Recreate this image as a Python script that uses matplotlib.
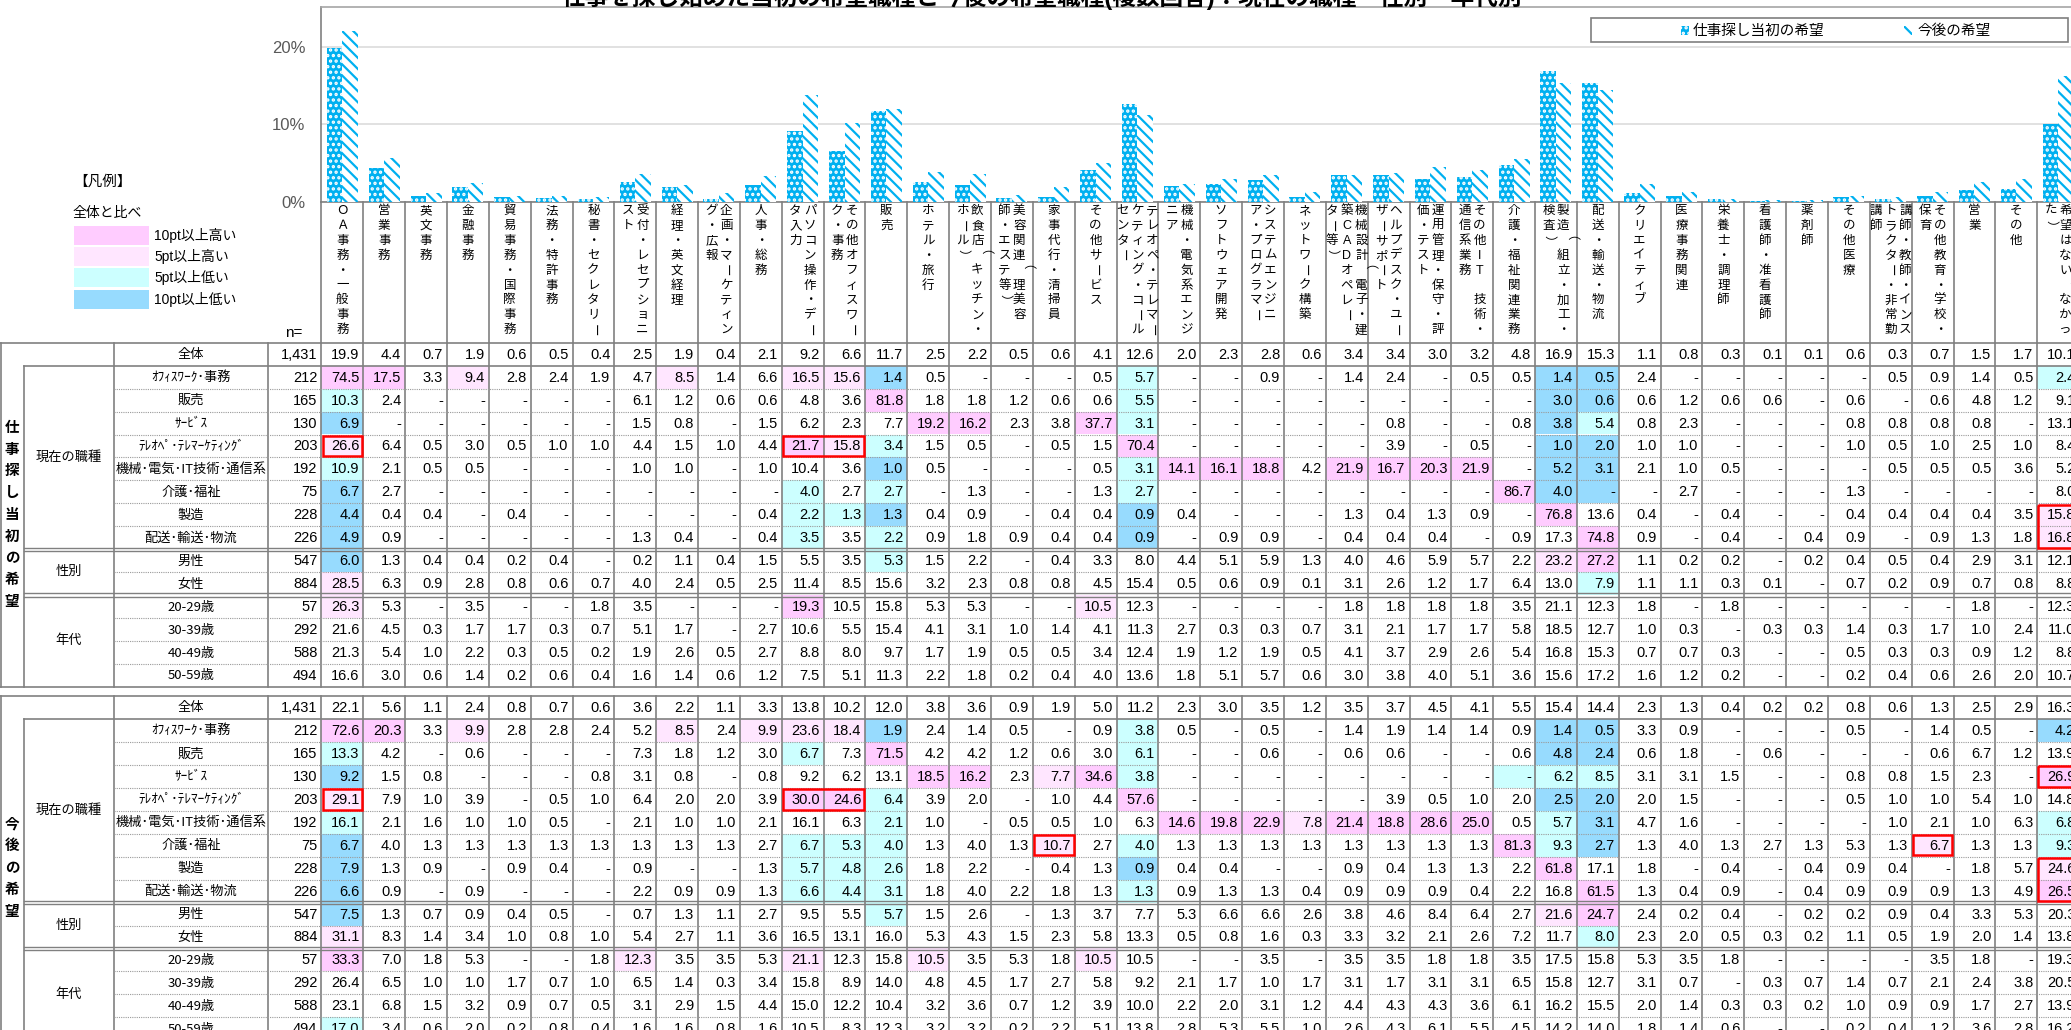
import matplotlib
matplotlib.use("Agg")
import matplotlib.pyplot as plt
from matplotlib.patches import Rectangle

plt.rcParams['font.family'] = ['Liberation Sans', 'Noto Sans CJK JP']
plt.rcParams['hatch.linewidth'] = 1.6

# ---- data -------------------------------------------------------------
job_labels = [
    "ＯＡ事務・一般事務", "営業事務", "英文事務", "金融事務", "貿易事務・国際事務", "法務・特許事務",
    "秘書・セクレタリー", "受付・レセプショニ|スト", "経理・英文経理", "企画・マーケティン|グ・広報",
    "人事・総務", "パソコン操作・デー|タ入力", "その他オフィスワー|ク・事務", "販売", "ホテル・旅行",
    "飲食店（キッチン・|ホール）", "美容関連（理美容|師・エステ等）", "家事代行・清掃員", "その他サービス",
    "テレオペ・テレマー|ケティング・コール|センター", "機械・電気系エンジ|ニア", "ソフトウェア開発",
    "システムエンジニ|ア・プログラマー", "ネットワーク構築", "機械設計（電子・建|築CADオペレー|ター等）",
    "ヘルプデスク・ユー|ザーサポート", "運用管理・保守・評|価・テスト", "その他IT　技術・|通信系業務",
    "介護・福祉関連業務", "製造（組立・加工・|検査）", "配送・輸送・物流", "クリエイティブ", "医療事務関連",
    "栄養士・調理師", "看護師・准看護師", "薬剤師", "その他医療", "講師・教師・インス|トラクター・非常勤|講師",
    "その他教育・学校・|保育", "営業", "その他", "希望はない（なかっ|た）",
]

block_titles = ["仕事探し当初の希望", "今後の希望"]
row_labels = ["全体", "ｵﾌｨｽﾜｰｸ･事務", "販売", "ｻｰﾋﾞｽ", "ﾃﾚｵﾍﾟ･ﾃﾚﾏｰｹﾃｨﾝｸﾞ", "機械･電気･IT技術･通信系",
              "介護･福祉", "製造", "配送･輸送･物流", "男性", "女性", "20-29歳", "30-39歳", "40-49歳", "50-59歳"]
groups = [("現在の職種", 1, 8), ("性別", 9, 10), ("年代", 11, 14)]
n_counts = [1431, 212, 165, 130, 203, 192, 75, 228, 226, 547, 884, 57, 292, 588, 494]

# 0 = "-"
first_wish = [
    [19.9, 4.4, 0.7, 1.9, 0.6, 0.5, 0.4, 2.5, 1.9, 0.4, 2.1, 9.2, 6.6, 11.7, 2.5, 2.2, 0.5, 0.6, 4.1, 12.6, 2.0, 2.3, 2.8, 0.6, 3.4, 3.4, 3.0, 3.2, 4.8, 16.9, 15.3, 1.1, 0.8, 0.3, 0.1, 0.1, 0.6, 0.3, 0.7, 1.5, 1.7, 10.1],
    [74.5, 17.5, 3.3, 9.4, 2.8, 2.4, 1.9, 4.7, 8.5, 1.4, 6.6, 16.5, 15.6, 1.4, 0.5, 0, 0, 0, 0.5, 5.7, 0, 0, 0.9, 0, 1.4, 2.4, 0, 0.5, 0.5, 1.4, 0.5, 2.4, 0, 0, 0, 0, 0, 0.5, 0.9, 1.4, 0.5, 2.4],
    [10.3, 2.4, 0, 0, 0, 0, 0, 6.1, 1.2, 0.6, 0.6, 4.8, 3.6, 81.8, 1.8, 1.8, 1.2, 0.6, 0.6, 5.5, 0, 0, 0, 0, 0, 0, 0, 0, 0, 3.0, 0.6, 0.6, 1.2, 0.6, 0.6, 0, 0.6, 0, 0.6, 4.8, 1.2, 9.1],
    [6.9, 0, 0, 0, 0, 0, 0, 1.5, 0.8, 0, 1.5, 6.2, 2.3, 7.7, 19.2, 16.2, 2.3, 3.8, 37.7, 3.1, 0, 0, 0, 0, 0, 0.8, 0, 0, 0.8, 3.8, 5.4, 0.8, 2.3, 0, 0, 0, 0.8, 0.8, 0.8, 0.8, 0, 13.1],
    [26.6, 6.4, 0.5, 3.0, 0.5, 1.0, 1.0, 4.4, 1.5, 1.0, 4.4, 21.7, 15.8, 3.4, 1.5, 0.5, 0, 0.5, 1.5, 70.4, 0, 0, 0, 0, 0, 3.9, 0, 0.5, 0, 1.0, 2.0, 1.0, 1.0, 0, 0, 0, 1.0, 0.5, 1.0, 2.5, 1.0, 8.4],
    [10.9, 2.1, 0.5, 0.5, 0, 0, 0, 1.0, 1.0, 0, 1.0, 10.4, 3.6, 1.0, 0.5, 0, 0, 0, 0.5, 3.1, 14.1, 16.1, 18.8, 4.2, 21.9, 16.7, 20.3, 21.9, 0, 5.2, 3.1, 2.1, 1.0, 0.5, 0, 0, 0, 0.5, 0.5, 0.5, 3.6, 5.2],
    [6.7, 2.7, 0, 0, 0, 0, 0, 0, 0, 0, 0, 4.0, 2.7, 2.7, 0, 1.3, 0, 0, 1.3, 2.7, 0, 0, 0, 0, 0, 0, 0, 0, 86.7, 4.0, 0, 0, 2.7, 0, 0, 0, 1.3, 0, 0, 0, 0, 8.0],
    [4.4, 0.4, 0.4, 0, 0.4, 0, 0, 0, 0, 0, 0.4, 2.2, 1.3, 1.3, 0.4, 0.9, 0, 0.4, 0.4, 0.9, 0.4, 0, 0, 0, 1.3, 0.4, 1.3, 0.9, 0, 76.8, 13.6, 0.4, 0, 0.4, 0, 0, 0.4, 0.4, 0.4, 0.4, 3.5, 15.8],
    [4.9, 0.9, 0, 0, 0, 0, 0, 1.3, 0.4, 0, 0.4, 3.5, 3.5, 2.2, 0.9, 1.8, 0.9, 0.4, 0.4, 0.9, 0, 0.9, 0.9, 0, 0.4, 0.4, 0.4, 0, 0.9, 17.3, 74.8, 0.9, 0, 0.4, 0, 0.4, 0.9, 0, 0.9, 1.3, 1.8, 16.8],
    [6.0, 1.3, 0.4, 0.4, 0.2, 0.4, 0, 0.2, 1.1, 0.4, 1.5, 5.5, 3.5, 5.3, 1.5, 2.2, 0, 0.4, 3.3, 8.0, 4.4, 5.1, 5.9, 1.3, 4.0, 4.6, 5.9, 5.7, 2.2, 23.2, 27.2, 1.1, 0.2, 0.2, 0, 0.2, 0.4, 0.5, 0.4, 2.9, 3.1, 12.1],
    [28.5, 6.3, 0.9, 2.8, 0.8, 0.6, 0.7, 4.0, 2.4, 0.5, 2.5, 11.4, 8.5, 15.6, 3.2, 2.3, 0.8, 0.8, 4.5, 15.4, 0.5, 0.6, 0.9, 0.1, 3.1, 2.6, 1.2, 1.7, 6.4, 13.0, 7.9, 1.1, 1.1, 0.3, 0.1, 0, 0.7, 0.2, 0.9, 0.7, 0.8, 8.8],
    [26.3, 5.3, 0, 3.5, 0, 0, 1.8, 3.5, 0, 0, 0, 19.3, 10.5, 15.8, 5.3, 5.3, 0, 0, 10.5, 12.3, 0, 0, 0, 0, 1.8, 1.8, 1.8, 1.8, 3.5, 21.1, 12.3, 1.8, 0, 1.8, 0, 0, 0, 0, 0, 1.8, 0, 12.3],
    [21.6, 4.5, 0.3, 1.7, 1.7, 0.3, 0.7, 5.1, 1.7, 0, 2.7, 10.6, 5.5, 15.4, 4.1, 3.1, 1.0, 1.4, 4.1, 11.3, 2.7, 0.3, 0.3, 0.7, 3.1, 2.1, 1.7, 1.7, 5.8, 18.5, 12.7, 1.0, 0.3, 0, 0.3, 0.3, 1.4, 0.3, 1.7, 1.0, 2.4, 11.0],
    [21.3, 5.4, 1.0, 2.2, 0.3, 0.5, 0.2, 1.9, 2.6, 0.5, 2.7, 8.8, 8.0, 9.7, 1.7, 1.9, 0.5, 0.5, 3.4, 12.4, 1.9, 1.2, 1.9, 0.5, 4.1, 3.7, 2.9, 2.6, 5.4, 16.8, 15.3, 0.7, 0.7, 0.3, 0, 0, 0.5, 0.3, 0.3, 0.9, 1.2, 8.8],
    [16.6, 3.0, 0.6, 1.4, 0.2, 0.6, 0.4, 1.6, 1.4, 0.6, 1.2, 7.5, 5.1, 11.3, 2.2, 1.8, 0.2, 0.4, 4.0, 13.6, 1.8, 5.1, 5.7, 0.6, 3.0, 3.8, 4.0, 5.1, 3.6, 15.6, 17.2, 1.6, 1.2, 0.2, 0, 0, 0.2, 0.4, 0.6, 2.6, 2.0, 10.7],
]

future_wish = [
    [22.1, 5.6, 1.1, 2.4, 0.8, 0.7, 0.6, 3.6, 2.2, 1.1, 3.3, 13.8, 10.2, 12.0, 3.8, 3.6, 0.9, 1.9, 5.0, 11.2, 2.3, 3.0, 3.5, 1.2, 3.5, 3.7, 4.5, 4.1, 5.5, 15.4, 14.4, 2.3, 1.3, 0.4, 0.2, 0.2, 0.8, 0.6, 1.3, 2.5, 2.9, 16.3],
    [72.6, 20.3, 3.3, 9.9, 2.8, 2.8, 2.4, 5.2, 8.5, 2.4, 9.9, 23.6, 18.4, 1.9, 2.4, 1.4, 0.5, 0, 0.9, 3.8, 0.5, 0, 0.5, 0, 1.4, 1.9, 1.4, 1.4, 0.9, 1.4, 0.5, 3.3, 0.9, 0, 0, 0, 0.5, 0, 1.4, 0.5, 0, 4.2],
    [13.3, 4.2, 0, 0.6, 0, 0, 0, 7.3, 1.8, 1.2, 3.0, 6.7, 7.3, 71.5, 4.2, 4.2, 1.2, 0.6, 3.0, 6.1, 0, 0, 0.6, 0, 0.6, 0.6, 0, 0, 0.6, 4.8, 2.4, 0.6, 1.8, 0, 0.6, 0, 0, 0, 0.6, 6.7, 1.2, 13.9],
    [9.2, 1.5, 0.8, 0, 0, 0, 0.8, 3.1, 0.8, 0, 0.8, 9.2, 6.2, 13.1, 18.5, 16.2, 2.3, 7.7, 34.6, 3.8, 0, 0, 0, 0, 0, 0, 0, 0, 0, 6.2, 8.5, 3.1, 3.1, 1.5, 0, 0, 0.8, 0.8, 1.5, 2.3, 0, 26.9],
    [29.1, 7.9, 1.0, 3.9, 0, 0.5, 1.0, 6.4, 2.0, 2.0, 3.9, 30.0, 24.6, 6.4, 3.9, 2.0, 0, 1.0, 4.4, 57.6, 0, 0, 0, 0, 0, 3.9, 0.5, 1.0, 2.0, 2.5, 2.0, 2.0, 1.5, 0, 0, 0, 0.5, 1.0, 1.0, 5.4, 1.0, 14.8],
    [16.1, 2.1, 1.6, 1.0, 1.0, 0.5, 0, 2.1, 1.0, 1.0, 2.1, 16.1, 6.3, 2.1, 1.0, 0, 0.5, 0.5, 1.0, 6.3, 14.6, 19.8, 22.9, 7.8, 21.4, 18.8, 28.6, 25.0, 0.5, 5.7, 3.1, 4.7, 1.6, 0, 0, 0, 0, 1.0, 2.1, 1.0, 6.3, 6.8],
    [6.7, 4.0, 1.3, 1.3, 1.3, 1.3, 1.3, 1.3, 1.3, 1.3, 2.7, 6.7, 5.3, 4.0, 1.3, 4.0, 1.3, 10.7, 2.7, 4.0, 1.3, 1.3, 1.3, 1.3, 1.3, 1.3, 1.3, 1.3, 81.3, 9.3, 2.7, 1.3, 4.0, 1.3, 2.7, 1.3, 5.3, 1.3, 6.7, 1.3, 1.3, 9.3],
    [7.9, 1.3, 0.9, 0, 0.9, 0.4, 0, 0.9, 0, 0, 1.3, 5.7, 4.8, 2.6, 1.8, 2.2, 0, 0.4, 1.3, 0.9, 0.4, 0.4, 0, 0, 0.9, 0.4, 1.3, 1.3, 2.2, 61.8, 17.1, 1.8, 0, 0.4, 0, 0.4, 0.9, 0.4, 0, 1.8, 5.7, 24.6],
    [6.6, 0.9, 0, 0.9, 0, 0, 0, 2.2, 0.9, 0.9, 1.3, 6.6, 4.4, 3.1, 1.8, 4.0, 2.2, 1.8, 1.3, 1.3, 0.9, 1.3, 1.3, 0.4, 0.9, 0.9, 0.9, 0.4, 2.2, 16.8, 61.5, 1.3, 0.4, 0.9, 0, 0.4, 0.9, 0.9, 0.9, 1.3, 4.9, 26.5],
    [7.5, 1.3, 0.7, 0.9, 0.4, 0.5, 0, 0.7, 1.3, 1.1, 2.7, 9.5, 5.5, 5.7, 1.5, 2.6, 0, 1.3, 3.7, 7.7, 5.3, 6.6, 6.6, 2.6, 3.8, 4.6, 8.4, 6.4, 2.7, 21.6, 24.7, 2.4, 0.2, 0.4, 0, 0.2, 0.2, 0.9, 0.4, 3.3, 5.3, 20.3],
    [31.1, 8.3, 1.4, 3.4, 1.0, 0.8, 1.0, 5.4, 2.7, 1.1, 3.6, 16.5, 13.1, 16.0, 5.3, 4.3, 1.5, 2.3, 5.8, 13.3, 0.5, 0.8, 1.6, 0.3, 3.3, 3.2, 2.1, 2.6, 7.2, 11.7, 8.0, 2.3, 2.0, 0.5, 0.3, 0.2, 1.1, 0.5, 1.9, 2.0, 1.4, 13.8],
    [33.3, 7.0, 1.8, 5.3, 0, 0, 1.8, 12.3, 3.5, 3.5, 5.3, 21.1, 12.3, 15.8, 10.5, 3.5, 5.3, 1.8, 10.5, 10.5, 0, 0, 3.5, 0, 3.5, 3.5, 1.8, 1.8, 3.5, 17.5, 15.8, 5.3, 3.5, 1.8, 0, 0, 0, 0, 3.5, 1.8, 0, 19.3],
    [26.4, 6.5, 1.0, 1.0, 1.7, 0.7, 1.0, 6.5, 1.4, 0.3, 3.4, 15.8, 8.9, 14.0, 4.8, 4.5, 1.7, 2.7, 5.8, 9.2, 2.1, 1.7, 1.0, 1.7, 3.1, 1.7, 3.1, 3.1, 6.5, 15.8, 12.7, 3.1, 0.7, 0, 0.3, 0.7, 1.4, 0.7, 2.1, 2.4, 3.8, 20.5],
    [23.1, 6.8, 1.5, 3.2, 0.9, 0.7, 0.5, 3.1, 2.9, 1.5, 4.4, 15.0, 12.2, 10.4, 3.2, 3.6, 0.7, 1.2, 3.9, 10.0, 2.2, 2.0, 3.1, 1.2, 4.4, 4.3, 4.3, 3.6, 6.1, 16.2, 15.5, 2.0, 1.4, 0.3, 0.3, 0.2, 1.0, 0.9, 0.9, 1.7, 2.7, 13.9],
    [17.0, 3.4, 0.6, 2.0, 0.2, 0.8, 0.4, 1.6, 1.6, 0.8, 1.6, 10.5, 8.3, 12.3, 3.2, 3.2, 0.2, 2.2, 5.1, 13.8, 2.8, 5.3, 5.5, 1.0, 2.6, 4.3, 6.1, 5.5, 4.5, 14.2, 14.0, 1.8, 1.4, 0.6, 0, 0, 0.2, 0.4, 1.2, 3.6, 2.8, 16.2],
]

# cells marked in red: (block, first row, last row, first col, last col)
red_boxes = [(0, 4, 4, 0, 0), (0, 4, 4, 11, 12), (0, 7, 8, 41, 41),
             (1, 4, 4, 0, 0), (1, 4, 4, 11, 12), (1, 6, 6, 17, 17), (1, 6, 6, 38, 38),
             (1, 3, 3, 41, 41), (1, 7, 8, 41, 41)]
shade_fix = {(1, 6, 12): 'lo5'}

legend_levels = [("10pt以上高い", 'hi10'), ("5pt以上高い", 'hi5'), ("5pt以上低い", 'lo5'), ("10pt以上低い", 'lo10')]
shade_colors = {'hi10': '#FFCCFF', 'hi5': '#FFE6FF', 'lo5': '#CCFFFF', 'lo10': '#97DBFE'}

# ---- geometry (pixels) -------------------------------------------------
W, H = 2071, 1030
X0, CW = 321.4, 41.85
BASE = 201.7
TOPS = [342.7, 696.0]
RH = 22.95
BLUE = '#00B0F0'
LINE = '#808080'
JP = ['Noto Sans CJK JP', 'DejaVu Sans']


def shade_level(v, ref):
    d = round(v - ref, 1)
    if d > 10:
        return 'hi10'
    if d > 5:
        return 'hi5'
    if d < -10:
        return 'lo10'
    if d < -5:
        return 'lo5'
    return None


fig = plt.figure(figsize=(W / 100, H / 100), dpi=100)

# bar chart
axb = fig.add_axes([X0 / W, 1 - BASE / H, 42 * CW / W, (BASE - 7) / H])
xs = [i + 0.5 for i in range(len(job_labels))]
axb.bar([x - 0.185 for x in xs], first_wish[0], width=0.37, color=BLUE,
        hatch='...', edgecolor='white', linewidth=0, zorder=3)
axb.bar([x + 0.185 for x in xs], future_wish[0], width=0.37, color='white',
        hatch='\\\\\\', edgecolor=BLUE, linewidth=0, zorder=3)
axb.set_xlim(0, len(job_labels))
axb.set_ylim(0, 25.2)
axb.set_xticks([])
axb.set_yticks([0, 10, 20])
axb.set_yticklabels(['0%', '10%', '20%'])
axb.tick_params(axis='y', length=0, pad=11.5, labelcolor='#595959', labelsize=12)
axb.grid(axis='y', color='#D9D9D9', linewidth=1.1, zorder=0)
axb.spines['right'].set_visible(False)
axb.spines['top'].set_color('#A6A6A6')
axb.spines['left'].set_color(LINE)
axb.spines['bottom'].set_color(LINE)
for s in ['top', 'left', 'bottom']:
    axb.spines[s].set_linewidth(1.2)

# overlay for table and texts
ax = fig.add_axes([0, 0, 1, 1])
ax.set_xlim(0, W)
ax.set_ylim(H, 0)
ax.axis('off')
ax.set_zorder(2)
ax.patch.set_visible(False)

ax.text(1042, 4.5, "仕事を探し始めた当初の希望職種と今後の希望職種(複数回答)：現在の職種・性別・年代別",
        ha='center', va='baseline', fontsize=17, fontweight='bold')

# bar legend
ax.add_patch(Rectangle((1590.7, 18.3), 477, 23.4, fill=False, edgecolor='#7F7F7F', lw=1.2))
ax.add_patch(Rectangle((1681, 26), 8, 8.5, facecolor=BLUE, hatch='...', edgecolor='white', lw=0))
ax.add_patch(Rectangle((1904, 26), 8, 8.5, facecolor='white', hatch='\\\\\\', edgecolor=BLUE, lw=0))
ax.text(1693, 30.5, "仕事探し当初の希望", ha='left', va='center', fontsize=10.5)
ax.text(1917, 30.5, "今後の希望", ha='left', va='center', fontsize=10.5)

# shade legend
ax.text(73, 182, "【凡例】", ha='left', va='center', fontsize=10.5)
ax.text(73, 213, "全体と比べ", ha='left', va='center', fontsize=10)
for k, (lab, lev) in enumerate(legend_levels):
    y = 226 + k * 21.2
    ax.add_patch(Rectangle((73.5, y), 75, 19, facecolor=shade_colors[lev], lw=0))
    ax.text(154, y + 9.5, lab, ha='left', va='center', fontsize=10)
ax.text(294, 333, "n=", ha='center', va='center', fontsize=11)

# column headers (vertical text)
for i, lab in enumerate(job_labels):
    xc = X0 + (i + 0.5) * CW
    parts = lab.split('|')
    for k, s in enumerate(parts):
        x = xc + (len(parts) - 1) / 2 * 14.6 - k * 14.6
        for j, ch in enumerate(s):
            rot = 270 if ch in 'ー（）' else 0
            ax.text(x, 211 + j * 14.9, ch, ha='center', va='center', fontsize=9,
                    rotation=rot, rotation_mode='anchor')
for i in range(len(job_labels) + 1):
    ax.plot([X0 + i * CW] * 2, [BASE, TOPS[0]], color=LINE, lw=1.2)

RIGHT = X0 + len(job_labels) * CW
for b, (T, data) in enumerate(zip(TOPS, [first_wish, future_wish])):
    nrow = len(row_labels)
    bottom = T + nrow * RH
    ref = data[0]
    # shading
    for r in range(1, nrow):
        for c, v in enumerate(data[r]):
            lev = shade_fix.get((b, r, c), shade_level(v, ref[c]))
            if lev:
                ax.add_patch(Rectangle((X0 + c * CW, T + r * RH), CW, RH,
                                       facecolor=shade_colors[lev], lw=0, zorder=1))
    # numbers
    for r in range(nrow):
        yc = T + (r + 0.5) * RH + 0.5
        ax.text(X0 - 4, yc, f"{n_counts[r]:,}", ha='right', va='center', fontsize=10.5, zorder=3)
        ax.text(190.9, yc, row_labels[r], ha='center', va='center', fontsize=9.5,
                family=JP, zorder=3)
        for c, v in enumerate(data[r]):
            txt = '-' if v == 0 else f"{v:.1f}"
            ax.text(X0 + (c + 1) * CW - 3.8, yc, txt, ha='right', va='center',
                    fontsize=10.5, zorder=3)
    # group and block labels
    for name, r0, r1 in groups:
        ax.text(69, T + (r0 + r1 + 1) / 2 * RH, name, ha='center', va='center', fontsize=9.5)
    title = block_titles[b]
    yc0 = T + nrow * RH / 2 - (len(title) - 1) / 2 * 21.7
    for j, ch in enumerate(title):
        ax.text(12, yc0 + j * 21.7, ch, ha='center', va='center', fontsize=10.5, fontweight='bold')
    # grid lines
    for x in [1.4, 114, 267.7] + [X0 + i * CW for i in range(len(job_labels) + 1)]:
        ax.plot([x, x], [T, bottom], color=LINE, lw=1.2, zorder=2)
    ax.plot([24, 24], [T + RH, bottom], color=LINE, lw=1.2, zorder=2)
    ax.plot([0, RIGHT], [T, T], color=LINE, lw=1.2, zorder=2)
    ax.plot([0, RIGHT], [bottom, bottom], color=LINE, lw=1.2, zorder=2)
    ax.plot([24, RIGHT], [T + RH, T + RH], color=LINE, lw=1.2, zorder=2)
    for k in [2, 3, 4, 5, 6, 7, 8, 10, 12, 13, 14]:
        ax.plot([114, RIGHT], [T + k * RH] * 2, color='#9A9A9A', lw=0.8,
                linestyle=(0, (1, 1)), zorder=2)
    for k in [9, 11]:
        for dy in (-1.7, 1.7):
            ax.plot([24, RIGHT], [T + k * RH + dy] * 2, color=LINE, lw=1.0, zorder=2)

# red highlight boxes
for b, r0, r1, c0, c1 in red_boxes:
    T = TOPS[b]
    ax.add_patch(Rectangle((X0 + c0 * CW + 1.2, T + r0 * RH + 1.2), (c1 - c0 + 1) * CW - 2.4,
                           (r1 - r0 + 1) * RH - 2.4, fill=False, edgecolor='#FF0000', lw=1.8, zorder=4))

fig.savefig("out.png", dpi=100)
